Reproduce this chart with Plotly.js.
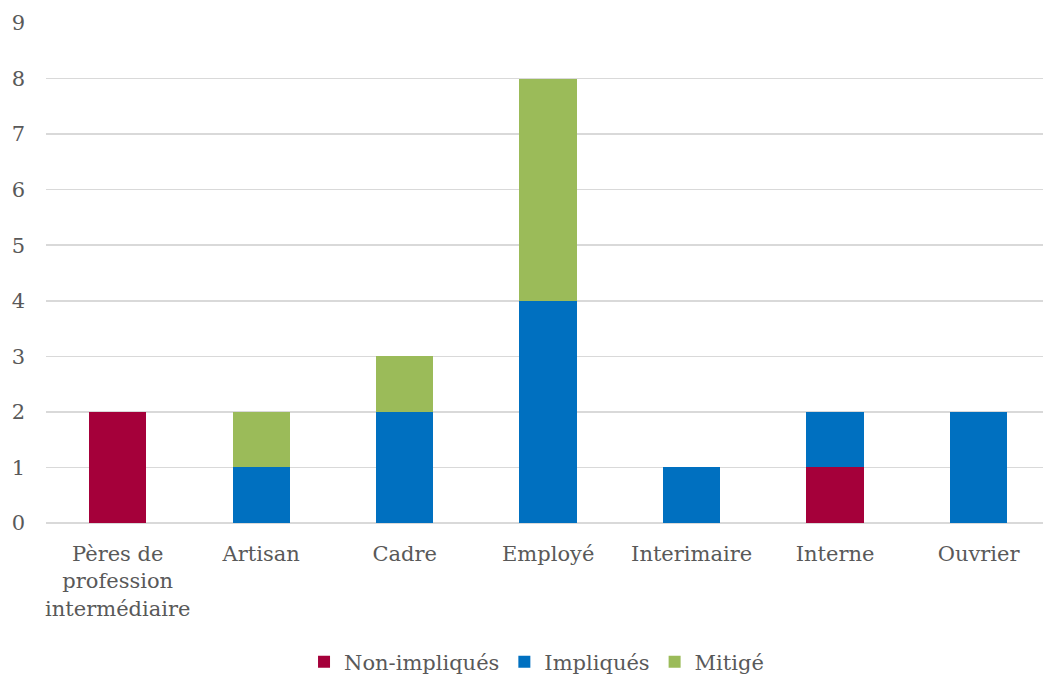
<!DOCTYPE html>
<html>
<head>
<meta charset="utf-8">
<script src="https://cdn.plot.ly/plotly-3.0.1.min.js"></script>
<style>html,body{margin:0;padding:0;background:#fff;}#chart{width:1043px;height:677px;}</style>
</head>
<body>
<div id="chart"></div>
<script>
var categories = ["Pères de<br>profession<br>intermédiaire", "Artisan", "Cadre", "Employé", "Interimaire", "Interne", "Ouvrier"];
var nonImpliques = [2, 0, 0, 0, 0, 1, 0];
var impliques = [0, 1, 2, 4, 1, 1, 2];
var mitige = [0, 1, 1, 4, 0, 0, 0];
var yTicks = [0, 1, 2, 3, 4, 5, 6, 7, 8, 9];

var font = {family: "DejaVu Serif, Liberation Serif, serif", size: 21, color: "#595959"};

function bar(name, vals, color) {
  return {type: "bar", name: name, x: categories, y: vals, width: 0.4,
    marker: {color: color, line: {width: 0}}, hoverinfo: "skip"};
}

var data = [
  bar("Non-impliqués", nonImpliques, "#A5003A"),
  bar("Impliqués", impliques, "#0070C0"),
  bar("Mitigé", mitige, "#9BBB59")
];

var layout = {
  width: 1043, height: 677,
  margin: {l: 46, r: 0, t: 23, b: 154},
  barmode: "stack",
  paper_bgcolor: "#fff", plot_bgcolor: "#fff",
  font: font,
  showlegend: true,
  legend: {orientation: "h", x: 0.492, xanchor: "center", yref: "container", y: 0.022, yanchor: "middle",
    font: font, traceorder: "normal", itemwidth: 30},
  xaxis: {type: "category", range: [-0.5, 6.449], showgrid: false, zeroline: false,
    showline: false, ticks: "", tickfont: font, ticklabelstandoff: 16, fixedrange: true},
  yaxis: {range: [0, 9], tickvals: yTicks, showgrid: true, gridcolor: "#D9D9D9", gridwidth: 1.5,
    zeroline: true, zerolinecolor: "#D9D9D9", zerolinewidth: 1.5, showline: false, ticks: "",
    tickfont: font, ticklabelstandoff: 20, fixedrange: true}
};

Plotly.newPlot("chart", data, layout, {displayModeBar: false, staticPlot: true});
</script>
</body>
</html>
